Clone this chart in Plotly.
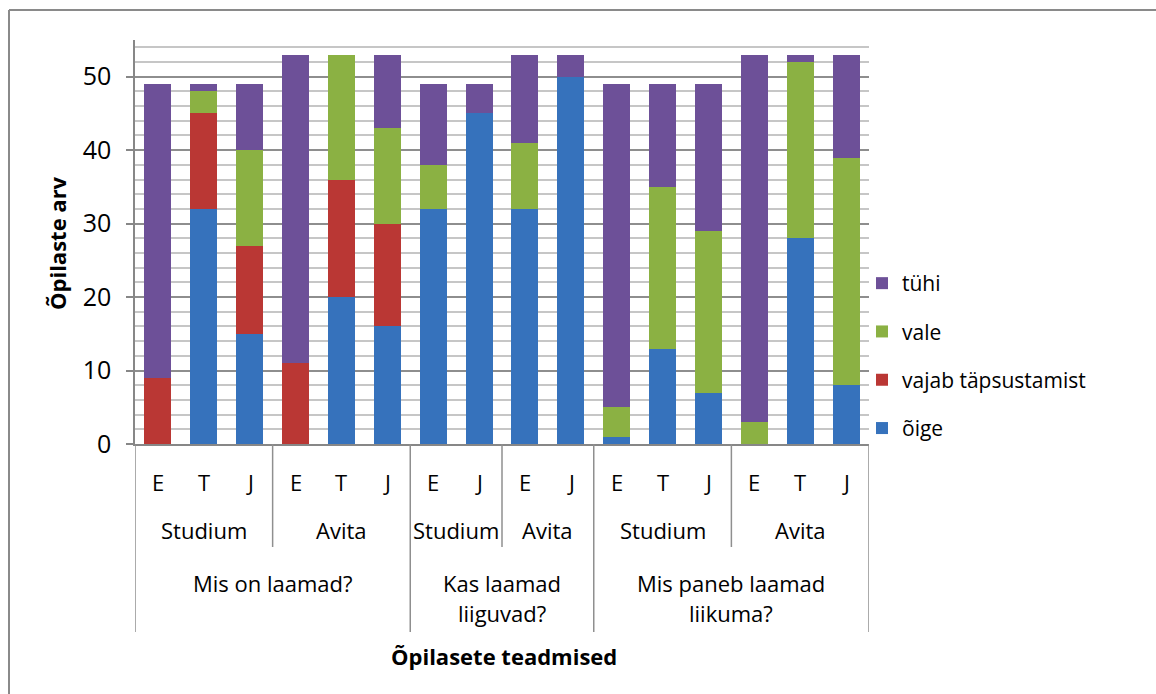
import plotly.graph_objects as go

# ---- data ----
level1 = ["E", "T", "J", "E", "T", "J", "E", "J", "E", "J", "E", "T", "J", "E", "T", "J"]
level2 = ["Studium", "Avita", "Studium", "Avita", "Studium", "Avita"]
level2_sizes = [3, 3, 2, 2, 3, 3]
level3 = [["Mis on laamad?"], ["Kas laamad", "liiguvad?"], ["Mis paneb laamad", "liikuma?"]]
level3_sizes = [6, 4, 6]

series_names = ["õige", "vajab täpsustamist", "vale", "tühi"]
oige = [0, 32, 15, 0, 20, 16, 32, 45, 32, 50, 1, 13, 7, 0, 28, 8]
vajab = [9, 13, 12, 11, 16, 14, 0, 0, 0, 0, 0, 0, 0, 0, 0, 0]
vale = [0, 3, 13, 0, 17, 13, 6, 0, 9, 0, 4, 22, 22, 3, 24, 31]
tyhi = [40, 1, 9, 42, 0, 10, 11, 4, 12, 3, 44, 14, 20, 50, 1, 14]

y_ticks = [0, 10, 20, 30, 40, 50]

# ---- layout geometry (pixels) ----
W, H = 1156, 694
L, R, T, B = 135, 869, 40, 444
PW, PH = R - L, B - T

def px(xp):
    return (xp - L) / PW

def py(yp):
    return (B - yp) / PH

FONT = "Open Sans"
colors = ["#3672BC", "#BA3734", "#8BB143", "#6D5098"]
xs = list(range(len(level1)))

fig = go.Figure()
n_series = len(series_names)
for k, (name, vals, col) in enumerate(zip(series_names, [oige, vajab, vale, tyhi], colors)):
    fig.add_trace(go.Bar(x=xs, y=vals, name=name, marker=dict(color=col, line=dict(width=0)),
                         legendgroup=name, legendrank=n_series - k))

cat_font = dict(size=22, family=FONT, color="black")
annotations = []
for i, lab in enumerate(level1):
    annotations.append(dict(x=i, y=py(482), xref="x", yref="paper", text=lab, showarrow=False,
                            font=cat_font, xanchor="center", yanchor="middle"))
pos = 0
lvl2_bounds = []
for lab, n in zip(level2, level2_sizes):
    annotations.append(dict(x=pos + (n - 1) / 2, y=py(530), xref="x", yref="paper", text=lab, showarrow=False,
                            font=cat_font, xanchor="center", yanchor="middle"))
    pos += n
    lvl2_bounds.append(pos - 0.5)
pos = 0
lvl3_bounds = [-0.5]
for lines, n in zip(level3, level3_sizes):
    for k, ln in enumerate(lines):
        annotations.append(dict(x=pos + (n - 1) / 2, y=py(583 + 30 * k), xref="x", yref="paper", text=ln,
                                showarrow=False, font=cat_font, xanchor="center", yanchor="middle"))
    pos += n
    lvl3_bounds.append(pos - 0.5)

annotations.append(dict(x=px(504), y=py(656), xref="paper", yref="paper", text="<b>Õpilasete teadmised</b>",
                        showarrow=False, xanchor="center", yanchor="middle",
                        font=dict(size=22, family=FONT, color="black")))
annotations.append(dict(x=px(57), y=py(243), xref="paper", yref="paper", text="<b>Õpilaste arv</b>",
                        textangle=-90, showarrow=False, xanchor="center", yanchor="middle",
                        font=dict(size=22, family=FONT, color="black")))

shapes = []
sep_col = "#8f8f8f"
for b in lvl2_bounds:
    if b not in lvl3_bounds:
        shapes.append(dict(type="line", xref="x", yref="paper", x0=b, x1=b, y0=py(444), y1=py(547),
                           line=dict(color=sep_col, width=1.5)))
for b in lvl3_bounds:
    shapes.append(dict(type="line", xref="x", yref="paper", x0=b, x1=b, y0=py(444), y1=py(632),
                       line=dict(color=sep_col, width=1.5)))
# outer chart border (top and left visible)
shapes.append(dict(type="line", xref="paper", yref="paper", x0=px(9), x1=px(W + 5), y0=py(10), y1=py(10),
                   line=dict(color="#8a8a8a", width=2)))
shapes.append(dict(type="line", xref="paper", yref="paper", x0=px(9), x1=px(9), y0=py(10), y1=py(H + 5),
                   line=dict(color="#8a8a8a", width=2)))

fig.update_layout(
    width=W, height=H,
    margin=dict(l=L, r=W - R, t=T, b=H - B, autoexpand=False),
    paper_bgcolor="white", plot_bgcolor="white",
    barmode="stack", bargap=0.41,
    font=dict(family=FONT, color="black"),
    showlegend=True,
    legend=dict(x=px(862), y=py(263), xanchor="left", yanchor="top", traceorder="grouped",
                tracegroupgap=18, font=dict(size=21, family=FONT, color="black"), bgcolor="rgba(0,0,0,0)"),
    annotations=annotations,
    shapes=shapes,
    xaxis=dict(range=[-0.5, 15.5], showticklabels=False, showgrid=False, ticks="", zeroline=False,
               showline=True, linecolor="#878787", linewidth=1.5, fixedrange=True),
    yaxis=dict(range=[0, 55], tickvals=y_ticks, showgrid=True, gridcolor="#8e8e8e", gridwidth=1.5,
               minor=dict(dtick=2, tick0=0, showgrid=True, gridcolor="#c6c6c6", gridwidth=1.5, ticks=""),
               showline=True, linecolor="#878787", linewidth=1.5, ticks="outside", ticklen=7,
               tickcolor="#878787", tickwidth=1.5, ticklabelstandoff=10,
               tickfont=dict(size=25, family=FONT, color="black"), zeroline=False),
)

fig.write_html("out.html")
